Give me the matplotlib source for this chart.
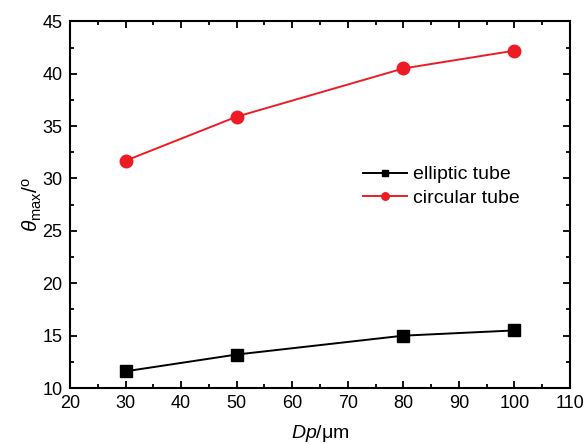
import numpy as np
import matplotlib.pyplot as plt
from matplotlib.ticker import MultipleLocator

plt.rcParams['font.family'] = ['Liberation Sans', 'DejaVu Sans']
plt.rcParams['mathtext.fontset'] = 'custom'
plt.rcParams['mathtext.rm'] = 'Liberation Sans'
plt.rcParams['mathtext.it'] = 'Liberation Sans:italic'

# --- data ---
dp = [30, 50, 80, 100]
elliptic = [11.6, 13.2, 15.0, 15.5]
circular = [31.7, 35.9, 40.5, 42.2]

fig = plt.figure(figsize=(5.84, 4.44), dpi=100)
ax = fig.add_axes([0.120, 0.126, 0.856, 0.826])

ax.plot(dp, elliptic, color='black', marker='s', markersize=8, lw=1.4,
        label='elliptic tube')
ax.plot(dp, circular, color='#ed1c24', marker='o', markersize=9, lw=1.4,
        label='circular tube')

ax.set_xlim(20, 110)
ax.set_ylim(10, 45)
ax.xaxis.set_major_locator(MultipleLocator(10))
ax.xaxis.set_minor_locator(MultipleLocator(5))
ax.yaxis.set_major_locator(MultipleLocator(5))
ax.yaxis.set_minor_locator(MultipleLocator(2.5))
ax.tick_params(which='both', direction='in', top=True, right=True,
               labelsize=13, width=1.3)
ax.tick_params(axis='y', pad=5.5)
ax.tick_params(axis='x', pad=5)
ax.tick_params(which='major', length=5)
ax.tick_params(which='minor', length=3)
for s in ax.spines.values():
    s.set_linewidth(1.5)

ax.set_xlabel(r'$\mathit{Dp}$/$\mathrm{\mu m}$', fontsize=14, labelpad=8)
ax.set_ylabel(r'$\theta_{\mathrm{max}}$/$^{\mathrm{o}}$', fontsize=15, labelpad=-1.5)

ax.legend(loc='upper left', bbox_to_anchor=(0.586, 0.606), frameon=False,
          fontsize=14, handlelength=2.25, handletextpad=0.3, labelspacing=0.31,
          borderpad=0, borderaxespad=0, markerscale=0.6)

fig.savefig('out.png', dpi=100)
